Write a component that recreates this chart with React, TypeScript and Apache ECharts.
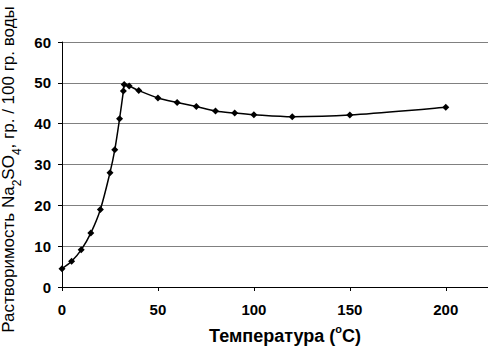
import React, { useEffect, useRef } from "react";
import * as echarts from "echarts";

const temperatures = [0, 5, 10, 15, 20, 25, 27.5, 30, 32, 32.4, 35, 40, 50, 60, 70, 80, 90, 100, 120, 150, 200];
const solubility = [4.5, 6.3, 9.1, 13.2, 19.0, 28.0, 33.6, 41.2, 48.0, 49.6, 49.2, 48.1, 46.3, 45.2, 44.2, 43.1, 42.6, 42.2, 41.7, 42.1, 44.0];
const xTicks = [0, 50, 100, 150, 200];
const yTicks = [0, 10, 20, 30, 40, 50, 60];

export default function App() {
  const ref = useRef<HTMLDivElement>(null);
  useEffect(() => {
    if (!ref.current) return;
    const chart = echarts.init(ref.current, undefined, { renderer: "svg" });
    const font = "'Liberation Sans', Arial, sans-serif";
    chart.setOption({
      animation: false,
      backgroundColor: "#ffffff",
      grid: { left: 62, right: 0, top: 42, bottom: 65, containLabel: false, outerBoundsMode: "none" },
      xAxis: {
        type: "value",
        min: 0,
        max: 222,
        interval: 50,
        name: "{n|Температура (}{sup|o}{n|C)}",
        nameLocation: "middle",
        nameGap: 36,
        nameTextStyle: {
          padding: [0, 0, 0, 20],
          rich: {
            n: { fontFamily: font, fontSize: 18, fontWeight: "bold", color: "#000", lineHeight: 22, verticalAlign: "bottom" },
            sup: { fontFamily: font, fontSize: 11, fontWeight: "bold", color: "#000", lineHeight: 22, verticalAlign: "top" },
          },
        },
        axisLine: { show: true, onZero: false, lineStyle: { color: "#000", width: 1 } },
        axisTick: { show: true, length: 4, lineStyle: { color: "#000" }, customValues: xTicks },
        axisLabel: { fontFamily: font, fontSize: 15, fontWeight: "bold", color: "#000", margin: 15, customValues: xTicks },
        splitLine: { show: false },
      },
      yAxis: {
        type: "value",
        min: 0,
        max: 60,
        interval: 10,
        name: "{n|Растворимость Na}{sub|2}{n|SO}{sub|4}{n|, гр. / 100 гр. воды}",
        nameLocation: "middle",
        nameGap: 34,
        nameRotate: 90,
        nameTextStyle: {
          padding: [0, 10, 0, 0],
          rich: {
            n: { fontFamily: font, fontSize: 17, color: "#000", lineHeight: 23, verticalAlign: "top" },
            sub: { fontFamily: font, fontSize: 12, color: "#000", lineHeight: 23, verticalAlign: "bottom" },
          },
        },
        axisLine: { show: true, lineStyle: { color: "#000", width: 1 } },
        axisTick: { show: true, length: 4, lineStyle: { color: "#000" } },
        axisLabel: { fontFamily: font, fontSize: 15, fontWeight: "bold", color: "#000", margin: 11, customValues: yTicks },
        splitLine: { show: true, lineStyle: { color: "#808080", width: 1 } },
      },
      series: [
        {
          type: "line",
          data: temperatures.map((t, i) => [t, solubility[i]]),
          smooth: 0.3,
          symbol: "diamond",
          symbolSize: 7,
          showSymbol: true,
          itemStyle: { color: "#000" },
          lineStyle: { color: "#000", width: 1.5 },
        },
      ],
    });
    return () => chart.dispose();
  }, []);
  return <div ref={ref} style={{ width: 488, height: 352, position: "absolute", left: 0, top: 0 }} />;
}
